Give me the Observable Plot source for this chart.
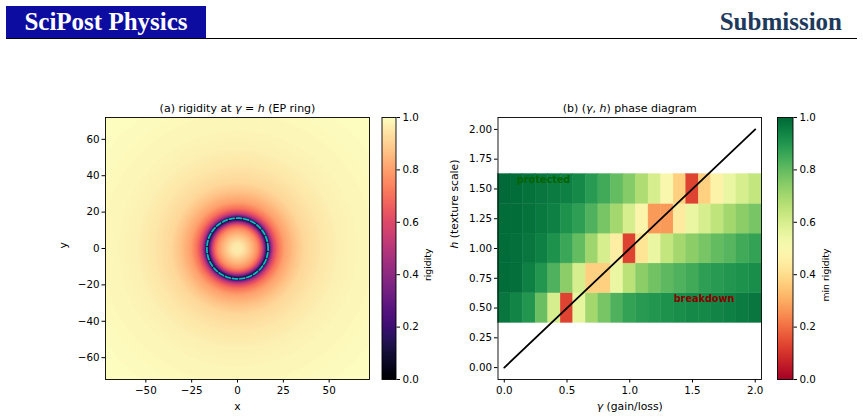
<!DOCTYPE html>
<html>
<head>
<meta charset="utf-8">
<script src="https://cdn.jsdelivr.net/npm/d3@7"></script>
<script src="https://cdn.jsdelivr.net/npm/@observablehq/plot@0.6"></script>
<style>
html,body{margin:0;padding:0;background:#fff;}
#page{position:relative;width:863px;height:420px;overflow:hidden;background:#fff;}
#brand{position:absolute;left:6px;top:6px;width:200px;height:32px;background:#0c0ca0;color:#fff;font-family:"Liberation Serif",serif;font-weight:bold;font-size:25px;line-height:32px;text-align:center;}
#sub{position:absolute;right:21px;top:6px;height:32px;line-height:32px;color:#1d3a5c;font-family:"Liberation Serif",serif;font-weight:bold;font-size:25px;}
#rule{position:absolute;left:6px;top:38px;width:851px;height:1px;background:#000;}
.layer{position:absolute;left:0;top:0;}
</style>
</head>
<body>
<div id="page">
  <div id="brand">SciPost Physics</div>
  <div id="sub">Submission</div>
  <div id="rule"></div>
</div>
<script>
// ---------- data ----------
// Panel (a): radial rigidity profile (radius -> rigidity)
const profileRadius   = [0, 3, 5.5, 8.2, 10.9, 12.8, 14.2, 15.3, 16.0, 16.7, 17.5, 18.2, 19.7, 21.9, 25.5, 31, 36.5, 45.6, 54.7, 69, 85, 102];
const profileRigidity = [0.965, 0.95, 0.90, 0.84, 0.76, 0.65, 0.48, 0.28, 0.12, 0.0, 0.25, 0.40, 0.58, 0.70, 0.80, 0.87, 0.92, 0.95, 0.97, 0.985, 0.995, 1.0];
const ringRadius = 16.7;
const xTicksA = [-50, -25, 0, 25, 50];
const yTicksA = [-60, -40, -20, 0, 20, 40, 60];
const extentA = [-72, 72];

// Panel (b): (gamma, h) phase diagram, min rigidity per cell
const gammaValues = [0, 0.1, 0.2, 0.3, 0.4, 0.5, 0.6, 0.7, 0.8, 0.9, 1.0, 1.1, 1.2, 1.3, 1.4, 1.5, 1.6, 1.7, 1.8, 1.9, 2.0];
const hValues = [0.5, 0.75, 1.0, 1.25, 1.5];
const gammaStep = 0.1, hStep = 0.25;
const minRigidity = [
  [0.97, 0.94, 0.90, 0.79, 0.60, 0.13, 0.56, 0.70, 0.77, 0.83, 0.87, 0.89, 0.90, 0.91, 0.92, 0.93, 0.93, 0.94, 0.95, 0.96, 0.97],
  [0.99, 0.985, 0.95, 0.90, 0.83, 0.74, 0.60, 0.37, 0.37, 0.55, 0.66, 0.74, 0.78, 0.81, 0.83, 0.85, 0.88, 0.89, 0.90, 0.91, 0.92],
  [0.99, 0.985, 0.97, 0.95, 0.91, 0.86, 0.80, 0.71, 0.60, 0.45, 0.13, 0.42, 0.55, 0.64, 0.70, 0.74, 0.77, 0.80, 0.82, 0.85, 0.87],
  [0.99, 0.99, 0.98, 0.965, 0.95, 0.91, 0.88, 0.83, 0.77, 0.70, 0.60, 0.48, 0.27, 0.27, 0.44, 0.55, 0.60, 0.65, 0.70, 0.74, 0.77],
  [0.995, 0.99, 0.98, 0.97, 0.96, 0.95, 0.93, 0.89, 0.85, 0.80, 0.75, 0.68, 0.60, 0.50, 0.37, 0.13, 0.37, 0.47, 0.55, 0.60, 0.64]
];
const diagGamma = [0, 2];
const diagH = [0, 2];
const xTicksB = [0, 0.5, 1.0, 1.5, 2.0];
const yTicksB = [0, 0.25, 0.5, 0.75, 1.0, 1.25, 1.5, 1.75, 2.0];
const xDomainB = [-0.05, 2.05];
const yDomainB = [-0.1, 2.1];
const annotations = [
  {g: 0.1, h: 1.55, text: "protected", color: "darkgreen"},
  {g: 1.35, h: 0.55, text: "breakdown", color: "darkred"}
];
const colorbarTicks = [0, 0.2, 0.4, 0.6, 0.8, 1.0];

// Text
const titleA = "(a) rigidity at γ = h (EP ring)";
const titleB = "(b) (γ, h) phase diagram";
const xLabelA = "x", yLabelA = "y";
const xLabelB = "γ (gain/loss)", yLabelB = "h (texture scale)";
const cbLabelA = "rigidity", cbLabelB = "min rigidity";

const it = s => `<tspan font-style="italic">${s}</tspan>`;
const mathMap = {
  [titleA]: `(a) rigidity at ${it("γ")} = ${it("h")} (EP ring)`,
  [titleB]: `(b) (${it("γ")}, ${it("h")}) phase diagram`,
  [xLabelB]: `${it("γ")} (gain/loss)`,
  [yLabelB]: `${it("h")} (texture scale)`
};

// ---------- layout ----------
const W = 863, H = 420;
const frameTop = 117, frameBottom = 379;
const frameA = {l: 105, r: 369};
const cbA = {l: 381.5, r: 395.5};
const frameB = {l: 497.5, r: 761};
const cbB = {l: 777, r: 792.5};
const baseStyle = {background: "transparent", overflow: "visible", fontFamily: "DejaVu Sans, sans-serif", fontSize: "10.3px", color: "#000"};

const page = document.getElementById("page");
function add(svg) {
  svg.classList.add("layer");
  svg.querySelectorAll("text").forEach(t => {
    const s = t.textContent;
    if (mathMap[s]) t.innerHTML = mathMap[s];
  });
  page.appendChild(svg);
}
const margins = f => ({marginLeft: f.l, marginRight: W - f.r, marginTop: frameTop, marginBottom: H - frameBottom});

// ---------- panel (a) ----------
const lookupA = d3.scaleLinear().domain(profileRadius).range(profileRigidity).clamp(true);
const ring = d3.range(0, 361, 2).map(a => ({x: ringRadius * Math.cos(a * Math.PI / 180), y: ringRadius * Math.sin(a * Math.PI / 180)}));

add(Plot.plot({
  width: W, height: H, ...margins(frameA),
  style: baseStyle,
  x: {domain: extentA, ticks: xTicksA, tickFormat: d3.format("d"), tickSize: 3.5, tickPadding: 3.5, label: null},
  y: {domain: extentA, ticks: yTicksA, tickFormat: d3.format("d"), tickSize: 3.5, tickPadding: 2.5, label: null},
  color: {type: "linear", scheme: "magma", domain: [0, 1]},
  marks: [
    Plot.raster({fill: (x, y) => lookupA(Math.hypot(x, y)), x1: extentA[0], x2: extentA[1], y1: extentA[0], y2: extentA[1]}),
    Plot.line(ring, {x: "x", y: "y", stroke: "#00bfbf", strokeWidth: 1.8, strokeDasharray: "5,2.3"}),
    Plot.frame({stroke: "#000", strokeWidth: 0.9}),
    Plot.text([titleA], {frameAnchor: "top", dy: -13.5, fontSize: 11}),
    Plot.text([xLabelA], {frameAnchor: "bottom", dy: 30.5, fontSize: 10.8}),
    Plot.text([yLabelA], {frameAnchor: "left", dx: -41.5, rotate: -90, fontSize: 10.8})
  ]
}));

// colorbar (a)
add(Plot.plot({
  width: W, height: H, ...margins(cbA),
  style: baseStyle,
  x: {axis: null, domain: [0, 1]},
  y: {axis: "right", domain: [0, 1], ticks: colorbarTicks, tickFormat: d3.format(".1f"), tickSize: 3.5, tickPadding: 3, label: null},
  color: {type: "linear", scheme: "magma", domain: [0, 1]},
  marks: [
    Plot.raster({fill: (x, y) => y, x1: 0, x2: 1, y1: 0, y2: 1}),
    Plot.frame({stroke: "#000", strokeWidth: 0.9}),
    Plot.text([cbLabelA], {frameAnchor: "right", dx: 32.5, rotate: -90, fontSize: 9.3})
  ]
}));

// ---------- panel (b) ----------
const cells = [];
hValues.forEach((h, i) => gammaValues.forEach((g, j) => cells.push({g, h, v: minRigidity[i][j]})));
const diag = diagGamma.map((g, i) => ({g, h: diagH[i]}));

add(Plot.plot({
  width: W, height: H, ...margins(frameB),
  style: baseStyle,
  x: {domain: xDomainB, ticks: xTicksB, tickFormat: d3.format(".1f"), tickSize: 3.5, tickPadding: 3.5, label: null},
  y: {domain: yDomainB, ticks: yTicksB, tickFormat: d3.format(".2f"), tickSize: 3.5, tickPadding: 2.5, label: null},
  color: {type: "linear", scheme: "rdylgn", domain: [0, 1]},
  marks: [
    Plot.rect(cells, {
      x1: d => d.g - gammaStep / 2, x2: d => d.g + gammaStep / 2,
      y1: d => d.h - hStep / 2, y2: d => d.h + hStep / 2,
      fill: "v", stroke: "v", strokeWidth: 0.4
    }),
    Plot.line(diag, {x: "g", y: "h", stroke: "#000", strokeWidth: 1.8}),
    Plot.text(annotations, {x: "g", y: "h", text: "text", fill: "color", textAnchor: "start", dy: -3.3, fontWeight: "bold", fontSize: 9.7}),
    Plot.frame({stroke: "#000", strokeWidth: 0.9}),
    Plot.text([titleB], {frameAnchor: "top", dy: -13.5, fontSize: 11}),
    Plot.text([xLabelB], {frameAnchor: "bottom", dy: 30.5, fontSize: 10.8}),
    Plot.text([yLabelB], {frameAnchor: "left", dx: -43.5, rotate: -90, fontSize: 10.8})
  ]
}));

// colorbar (b)
add(Plot.plot({
  width: W, height: H, ...margins(cbB),
  style: baseStyle,
  x: {axis: null, domain: [0, 1]},
  y: {axis: "right", domain: [0, 1], ticks: colorbarTicks, tickFormat: d3.format(".1f"), tickSize: 3.5, tickPadding: 3, label: null},
  color: {type: "linear", scheme: "rdylgn", domain: [0, 1]},
  marks: [
    Plot.raster({fill: (x, y) => y, x1: 0, x2: 1, y1: 0, y2: 1}),
    Plot.frame({stroke: "#000", strokeWidth: 0.9}),
    Plot.text([cbLabelB], {frameAnchor: "right", dx: 33.5, rotate: -90, fontSize: 9.3})
  ]
}));
</script>
</body>
</html>
